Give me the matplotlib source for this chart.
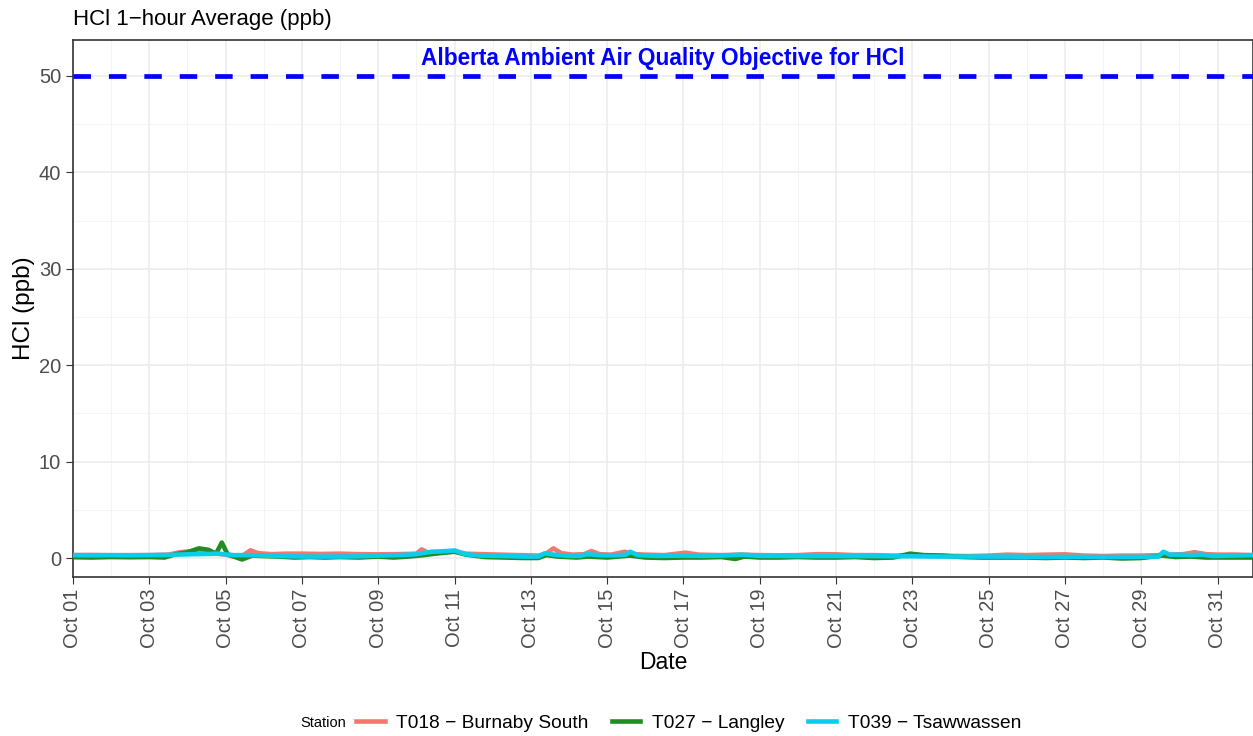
import pandas as pd
import matplotlib
matplotlib.use("Agg")
import matplotlib.pyplot as plt
import matplotlib.dates as mdates
from matplotlib.lines import Line2D

plt.rcParams['font.family'] = ['Liberation Sans', 'DejaVu Sans']

start = pd.Timestamp('2023-10-01')

# T018 - Burnaby South (days since Oct 01, ppb)
red_days = [0, 0.5, 1.0, 1.5, 2.0, 2.5, 2.8, 3.1, 3.4, 3.6, 3.75, 4.0, 4.2, 4.45, 4.65, 4.85,
            5.2, 5.6, 6.0, 6.5, 7.0, 7.5, 8.0, 8.5, 9.0, 9.14, 9.3, 9.6, 10.0, 10.3, 10.7,
            11.2, 11.7, 12.2, 12.4, 12.59, 12.8, 13.1, 13.4, 13.59, 13.8, 14.1, 14.46, 14.7,
            15.0, 15.5, 16.05, 16.4, 17.0, 17.5, 18.0, 18.5, 19.0, 19.5, 20.0, 20.5, 21.0,
            21.5, 22.0, 22.5, 23.0, 23.5, 24.0, 24.5, 25.0, 25.5, 26.0, 26.5, 27.0, 27.5,
            28.0, 28.5, 28.8, 29.1, 29.4, 29.7, 30.0, 30.5, 30.93]
red_vals = [0.30, 0.32, 0.28, 0.30, 0.30, 0.35, 0.60, 0.70, 0.75, 0.65, 0.45, 0.35, 0.15, 0.25, 0.80, 0.50,
            0.40, 0.45, 0.45, 0.42, 0.45, 0.40, 0.38, 0.40, 0.45, 0.90, 0.55, 0.60, 0.70, 0.45, 0.40,
            0.35, 0.30, 0.25, 0.45, 1.00, 0.50, 0.35, 0.40, 0.72, 0.40, 0.35, 0.65, 0.40,
            0.35, 0.30, 0.55, 0.35, 0.30, 0.35, 0.30, 0.28, 0.30, 0.40, 0.38, 0.30, 0.30,
            0.25, 0.30, 0.25, 0.22, 0.20, 0.25, 0.35, 0.30, 0.35, 0.38, 0.25, 0.20, 0.25,
            0.25, 0.30, 0.35, 0.40, 0.60, 0.40, 0.35, 0.35, 0.30]

# T027 - Langley
green_days = [0, 0.5, 1.0, 1.5, 2.0, 2.4, 2.7, 3.0, 3.3, 3.55, 3.75, 3.9, 4.05, 4.25, 4.43, 4.7,
              5.0, 5.4, 5.8, 6.2, 6.6, 7.0, 7.5, 8.0, 8.4, 8.8, 9.2, 9.5, 10.0, 10.3, 10.8,
              11.3, 11.8, 12.2, 12.4, 12.7, 13.2, 13.5, 14.0, 14.6, 15.0, 15.5, 16.0, 16.5,
              17.0, 17.36, 17.6, 18.0, 18.5, 19.0, 19.5, 20.0, 20.5, 21.0, 21.5, 21.94, 22.3,
              22.8, 23.3, 23.8, 24.5, 25.0, 25.5, 26.0, 26.5, 27.0, 27.5, 28.0, 28.55, 28.9,
              29.3, 29.7, 30.2, 30.93]
green_vals = [0.08, 0.05, 0.10, 0.08, 0.10, 0.05, 0.40, 0.60, 1.00, 0.85, 0.45, 1.60, 0.40, 0.10, -0.15, 0.25,
              0.20, 0.15, 0.05, 0.10, 0.05, 0.10, 0.05, 0.15, 0.05, 0.15, 0.30, 0.45, 0.65, 0.35, 0.10,
              0.05, 0.00, 0.00, 0.30, 0.15, 0.05, 0.15, 0.05, 0.25, 0.05, 0.00, 0.05, 0.05,
              0.10, -0.10, 0.15, 0.05, 0.05, 0.10, 0.05, 0.05, 0.10, 0.00, 0.05, 0.45, 0.30,
              0.25, 0.10, 0.05, 0.05, 0.05, 0.00, 0.05, 0.00, 0.05, -0.05, 0.00, 0.25, 0.10,
              0.15, 0.05, 0.05, 0.05]

# T039 - Tsawwassen
cyan_days = [0, 0.5, 1.0, 1.5, 2.0, 2.5, 3.0, 3.5, 3.8, 4.2, 4.6, 5.0, 5.5, 6.0, 6.5, 7.0, 7.5,
             8.0, 8.5, 8.96, 9.4, 9.7, 10.01, 10.27, 10.7, 11.2, 11.8, 12.2, 12.37, 12.6, 13.0,
             13.3, 13.46, 13.8, 14.2, 14.5, 14.61, 14.8, 15.3, 16.0, 16.5, 17.0, 17.53, 18.0,
             18.5, 19.0, 19.5, 20.0, 20.5, 21.0, 21.5, 22.0, 22.5, 23.0, 23.5, 24.0, 24.5,
             25.0, 25.5, 26.0, 26.5, 27.0, 27.5, 28.0, 28.45, 28.58, 28.75, 29.0, 29.3, 29.6,
             29.9, 30.3, 30.93]
cyan_vals = [0.30, 0.28, 0.30, 0.28, 0.30, 0.32, 0.38, 0.42, 0.45, 0.30, 0.30, 0.25, 0.20, 0.15, 0.15, 0.15, 0.18,
             0.25, 0.30, 0.38, 0.65, 0.70, 0.78, 0.40, 0.25, 0.22, 0.15, 0.15, 0.50, 0.35, 0.22,
             0.22, 0.40, 0.30, 0.28, 0.35, 0.65, 0.30, 0.22, 0.25, 0.22, 0.25, 0.35, 0.22,
             0.22, 0.20, 0.20, 0.20, 0.20, 0.20, 0.18, 0.18, 0.15, 0.15, 0.15, 0.15, 0.15,
             0.12, 0.10, 0.12, 0.12, 0.10, 0.12, 0.12, 0.15, 0.65, 0.35, 0.35, 0.30, 0.35,
             0.20, 0.25, 0.30]

stations = ['T018 \u2212 Burnaby South', 'T027 \u2212 Langley', 'T039 \u2212 Tsawwassen']
colors = ['#F8766D', '#228B22', '#0ACDEB']
objective = 50
objective_label = 'Alberta Ambient Air Quality Objective for HCl'


def to_time(days):
    return start + pd.to_timedelta(days, unit='D')


fig = plt.figure(figsize=(12.53, 7.36), dpi=100)
ax = fig.add_axes([73 / 1253, 1 - 577 / 736, 1 - 73 / 1253, 537 / 736])

series = [(red_days, red_vals), (green_days, green_vals), (cyan_days, cyan_vals)]
for (d, v), c in zip(series, colors):
    ax.plot(to_time(d), v, color=c, linewidth=3.3, solid_joinstyle='round', zorder=3)

ax.axhline(objective, color='#0000FF', linewidth=3.4, dashes=(3.7, 3.8),
           dash_capstyle='butt', zorder=4)
ax.text(0.5, objective + 0.6, objective_label, transform=ax.get_yaxis_transform(),
        ha='center', va='bottom', color='#0000FF', fontsize=16.3, fontweight='bold')

ax.set_xlim(start, to_time(30.93))
ax.set_ylim(-1.97, 53.73)

ax.xaxis.set_major_locator(mdates.DayLocator(bymonthday=range(1, 32, 2)))
ax.xaxis.set_minor_locator(mdates.DayLocator(bymonthday=range(2, 32, 2)))
ax.xaxis.set_major_formatter(mdates.DateFormatter('%b %d'))
ax.set_yticks([0, 10, 20, 30, 40, 50])
ax.set_yticks([5, 15, 25, 35, 45], minor=True)

ax.grid(which='major', color='#EBEBEB', linewidth=1.1, zorder=0)
ax.grid(which='minor', color='#F3F3F3', linewidth=0.6, zorder=0)
ax.set_axisbelow(True)

for s in ax.spines.values():
    s.set_color('#333333')
    s.set_linewidth(1.2)

ax.tick_params(which='major', length=5, color='#333333', labelsize=14.5, labelcolor='#4D4D4D')
ax.tick_params(which='minor', length=0)
plt.setp(ax.get_xticklabels(), rotation=90, va='top', ha='center')

ax.set_xlabel('Date', fontsize=16.5, labelpad=2)
ax.set_ylabel('HCl (ppb)', fontsize=17.5, labelpad=3)
fig.text(73 / 1253, 1 - 20 / 736, 'HCl 1\u2212hour Average (ppb)', fontsize=16,
         ha='left', va='center')

handles = [Line2D([], [], color=c, linewidth=3.3) for c in colors]
fig.text(300 / 1253, 1 - 723 / 736, 'Station', fontsize=10.5, ha='left', va='center')
fig.legend(handles, stations, loc='center left', bbox_to_anchor=(356 / 1253, 1 - 723 / 736),
           ncol=3, frameon=False, fontsize=13.8, handlelength=1.5, handletextpad=0.6,
           columnspacing=1.2, borderaxespad=0, borderpad=0)

fig.savefig('out.png', dpi=100)
